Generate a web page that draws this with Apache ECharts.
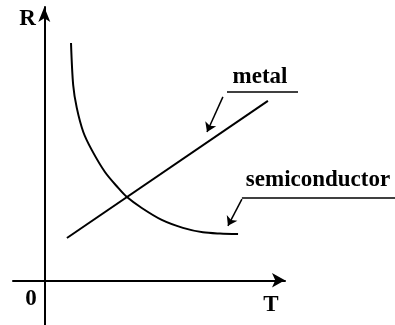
<!DOCTYPE html>
<html>
<head>
<meta charset="utf-8">
<script src="https://cdn.jsdelivr.net/npm/echarts@6/dist/echarts.min.js"></script>
<style>
  html, body { margin: 0; padding: 0; background: #fff; }
  #main { width: 395px; height: 325px; }
</style>
</head>
<body>
<div id="main"></div>
<script>
// metal: straight line, R rises with T
const metalT = [0.94, 9.29]
const metalR = [1.70, 7.22]

// semiconductor: R falls with T
const semiT = [1.11, 1.20, 1.35, 1.62, 1.97, 2.52, 3.07, 3.42, 4.05, 4.88, 5.76, 6.59, 7.30, 8.05]
const semiR = [9.55, 7.86, 6.94, 5.97, 5.25, 4.36, 3.72, 3.36, 2.91, 2.43, 2.11, 1.93, 1.88, 1.86]

// label pointers (arrows) and the lines under the labels
const arrowLines = [
  [[7.42, 7.38], [6.76, 5.97]],
  [[8.21, 3.27], [7.63, 2.19]]
]
const underLines = [
  [[7.59, 7.58], [10.54, 7.58]],
  [[8.21, 3.31], [14.6, 3.31]]
]

const toPairs = (xs, ys) => xs.map((x, i) => [x, ys[i]])

var chart = echarts.init(document.getElementById('main'))

const labelFont = 'bold 23px "Liberation Serif", "DejaVu Serif", serif'

var option = {
  animation: false,
  grid: { left: 13, right: 110, top: 7, bottom: 0 },
  xAxis: {
    type: 'value',
    min: -1.3,
    max: 10,
    axisLine: {
      onZero: true,
      symbol: ['none', 'arrow'],
      symbolSize: [11, 13],
      lineStyle: { color: '#000', width: 2 }
    },
    axisTick: { show: false },
    axisLabel: { show: false },
    splitLine: { show: false }
  },
  yAxis: {
    type: 'value',
    min: -1.8,
    max: 11,
    axisLine: {
      onZero: true,
      symbol: ['none', 'arrow'],
      symbolSize: [9, 15],
      lineStyle: { color: '#000', width: 2 }
    },
    axisTick: { show: false },
    axisLabel: { show: false },
    splitLine: { show: false }
  },
  series: [
    {
      name: 'metal',
      type: 'line',
      data: toPairs(metalT, metalR),
      showSymbol: false,
      lineStyle: { color: '#000', width: 2 }
    },
    {
      name: 'semiconductor',
      type: 'line',
      smooth: 0.3,
      data: toPairs(semiT, semiR),
      showSymbol: false,
      lineStyle: { color: '#000', width: 2 }
    },
    {
      type: 'lines',
      coordinateSystem: 'cartesian2d',
      clip: false,
      symbol: ['none', 'arrow'],
      symbolSize: 9,
      data: arrowLines.map(c => ({ coords: c })),
      lineStyle: { color: '#000', width: 1.5, opacity: 1 }
    },
    {
      type: 'lines',
      coordinateSystem: 'cartesian2d',
      clip: false,
      data: underLines.map(c => ({ coords: c })),
      lineStyle: { color: '#000', width: 1.5, opacity: 1 }
    }
  ],
  graphic: [
    { type: 'text', x: 27.5, y: 19.5, style: { text: 'R', font: labelFont, fill: '#000', align: 'center', verticalAlign: 'middle' } },
    { type: 'text', x: 31, y: 299, style: { text: '0', font: labelFont, fill: '#000', align: 'center', verticalAlign: 'middle' } },
    { type: 'text', x: 271, y: 305, style: { text: 'T', font: labelFont, fill: '#000', align: 'center', verticalAlign: 'middle' } },
    { type: 'text', x: 260, y: 77, style: { text: 'metal', font: labelFont, fill: '#000', align: 'center', verticalAlign: 'middle' } },
    { type: 'text', x: 318, y: 180, style: { text: 'semiconductor', font: labelFont, fill: '#000', align: 'center', verticalAlign: 'middle' } }
  ]
}

chart.setOption(option)
</script>
</body>
</html>
